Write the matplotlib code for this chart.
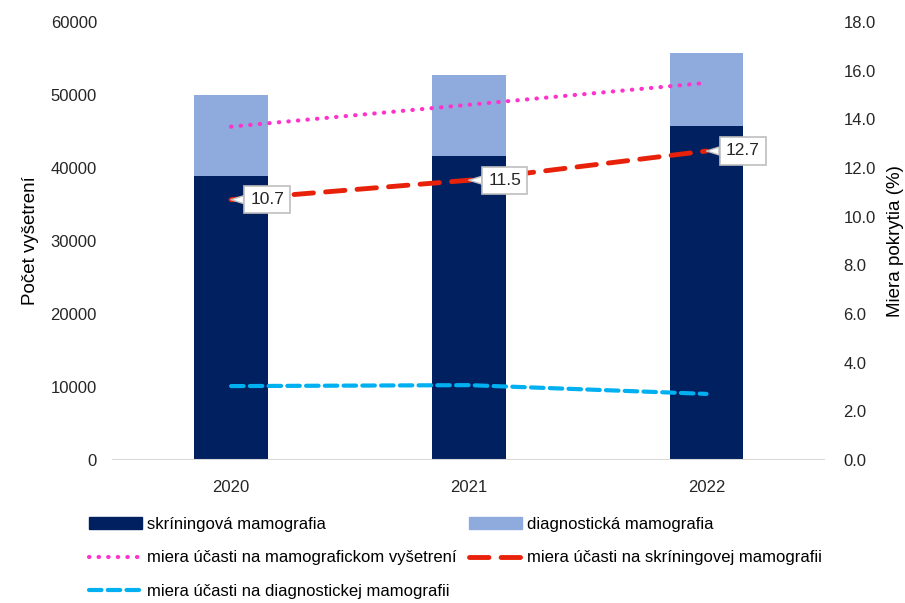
import matplotlib.pyplot as plt
import matplotlib.lines as mlines
import matplotlib.patches as mpatches
import numpy as np

plt.rcParams['font.family'] = ['Liberation Sans', 'DejaVu Sans']

roky = ['2020', '2021', '2022']
skriningova = [38900, 41600, 45800]
diagnosticka = [11100, 11100, 10000]
ucast_celkom = [13.7, 14.6, 15.5]
ucast_skrining = [10.7, 11.5, 12.7]
ucast_diag = [3.04, 3.08, 2.72]

fig = plt.figure(figsize=(9.05, 6.03), dpi=100)
ax = fig.add_axes([0.124, 0.237, 0.788, 0.7265])
ax2 = ax.twinx()

x = np.arange(len(roky))
w = 0.31
ax.bar(x, skriningova, w, color='#002060', zorder=2)
ax.bar(x, diagnosticka, w, bottom=skriningova, color='#8FAADC', zorder=2)

ax2.plot(x, ucast_celkom, color='#FF33CC', lw=3, linestyle=(0, (0.1, 2.2)),
         dash_capstyle='round')
ax2.plot(x, ucast_skrining, color='#E8220A', lw=3.5, linestyle=(0, (4, 2.5)),
         dash_capstyle='round')
ax2.plot(x, ucast_diag, color='#00B0F0', lw=3, linestyle=(0, (3, 1.5)),
         dash_capstyle='round')

# popisky hodnot s "bublinou"
for xi, v in zip(x, ucast_skrining):
    ax2.annotate(f'{v:.1f}', xy=(xi, v), xytext=(26, 0), textcoords='offset points',
                 ha='center', va='center', fontsize=12.5, color='#262626',
                 bbox=dict(boxstyle='square,pad=0.35', fc='white', ec='#BFBFBF', lw=1.2),
                 arrowprops=dict(arrowstyle='wedge,tail_width=0.45,shrink_factor=0.5',
                                 fc='white', ec='#BFBFBF', lw=1, shrinkA=0, shrinkB=0),
                 zorder=5)

ax.set_xlim(-0.5, 2.5)
ax.set_ylim(0, 60000)
ax2.set_ylim(0, 18)
ax.set_yticks(range(0, 60001, 10000))
ax2.set_yticks(np.arange(0, 18.1, 2))
ax2.set_yticklabels([f'{t:.1f}' for t in np.arange(0, 18.1, 2)])
ax.set_xticks(x)
ax.set_xticklabels(roky)

for a in (ax, ax2):
    for s in ['top', 'left', 'right', 'bottom']:
        a.spines[s].set_visible(False)
    a.tick_params(length=0, labelsize=12, colors='#262626')
ax.axhline(0, color='#D9D9D9', lw=1.5, zorder=3)
ax.tick_params(axis='y', pad=11)
ax2.tick_params(axis='y', pad=13)
ax.tick_params(axis='x', pad=14)

ax.set_ylabel('Počet vyšetrení', fontsize=13.5, color='black', labelpad=8)
ax2.set_ylabel('Miera pokrytia (%)', fontsize=13.5, color='black', labelpad=8)

h1 = mpatches.Patch(color='#002060', label='skríningová mamografia')
h2 = mpatches.Patch(color='#8FAADC', label='diagnostická mamografia')
h3 = mlines.Line2D([], [], color='#FF33CC', lw=3, linestyle=(0, (0.1, 2.2)),
                   dash_capstyle='round', label='miera účasti na mamografickom vyšetrení')
h4 = mlines.Line2D([], [], color='#E8220A', lw=3.5, linestyle=(0, (4, 2.5)),
                   dash_capstyle='round', label='miera účasti na skríningovej mamografii')
h5 = mlines.Line2D([], [], color='#00B0F0', lw=3, linestyle=(0, (3, 1.5)),
                   dash_capstyle='round', label='miera účasti na diagnostickej mamografii')
fig.legend(handles=[h1, h3, h5, h2, h4], ncol=2, loc='upper left',
           bbox_to_anchor=(0.098, 0.143), frameon=False, fontsize=12,
           handlelength=3.2, handletextpad=0.3, columnspacing=0.75,
           labelspacing=1.12, borderaxespad=0, borderpad=0)

fig.savefig('out.png', dpi=100)
